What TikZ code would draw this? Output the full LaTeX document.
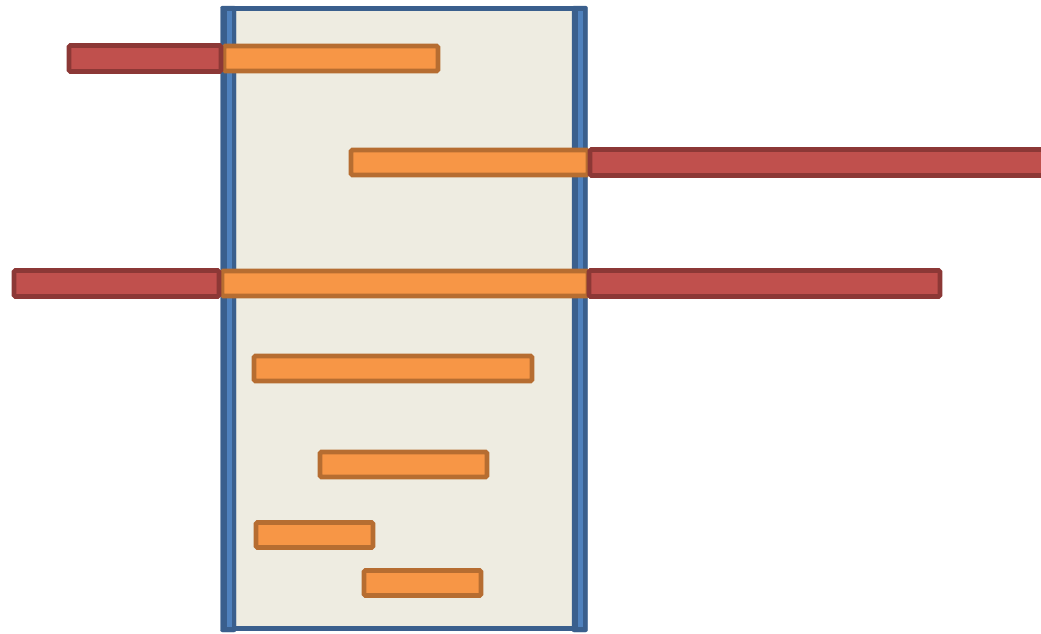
\documentclass[tikz,border=0pt]{standalone}
\usepackage{tikz}

\definecolor{boxfill}{HTML}{EEECE1}
\definecolor{boxline}{HTML}{3A5F8D}
\definecolor{boxlight}{HTML}{4F81BD}
\definecolor{barorange}{HTML}{F79646}
\definecolor{barorangeline}{HTML}{B66D31}
\definecolor{barred}{HTML}{C0504D}
\definecolor{barredline}{HTML}{8C3836}

\begin{document}
\begin{tikzpicture}[x=1pt,y=-1pt,
	orangebar/.style={rectangle,draw=barorangeline,fill=barorange,line width=4.8pt,rounded corners=1.5pt,inner sep=0pt,minimum height=25pt},
	redbar/.style={rectangle,draw=barredline,fill=barred,line width=4.8pt,rounded corners=1.5pt,inner sep=0pt,minimum height=26pt},
	sidebar/.style={draw=boxline,fill=boxline,rounded corners=2pt},
	sidelight/.style={draw=none,fill=boxlight}]
				\useasboundingbox (0,0) rectangle (1041,633);
				\clip (0,0) rectangle (1041,633);
				% the box
				\fill[boxfill] (228,9) rectangle (580,628);
				\draw[boxline, line width=5pt] (228,8.5) -- (580,8.5);
				\draw[boxline, line width=5pt] (228,628.5) -- (580,628.5);
				\path[sidebar] (220.5,6) rectangle (236,632);
				\path[sidelight] (226.5,11) rectangle (231.5,627);
				\path[sidebar] (572,6) rectangle (587.5,632);
				\path[sidelight] (577.5,11) rectangle (582.5,627);
				% the bars
				\node[orangebar, minimum width=214] (O1) at (331,58.5) {};
				\node[redbar, minimum width=152] (R1) at (145,58.5) {};
				\node[orangebar, minimum width=237] (O2) at (469.5,162.5) {};
				\node[redbar, minimum width=470] (R2) at (825,162.5) {};
				\node[orangebar, minimum width=366] (O3) at (405,283.5) {};
				\node[redbar, minimum width=205] (R3) at (116.5,283.5) {};
				\node[redbar, minimum width=351] (R4) at (764.5,283.5) {};
				\node[orangebar, minimum width=278] (O4) at (393,368.5) {};
				\node[orangebar, minimum width=167] (O5) at (403.5,464.5) {};
				\node[orangebar, minimum width=117] (O6) at (314.5,535) {};
				\node[orangebar, minimum width=117] (O7) at (422.5,583) {};
			\end{tikzpicture}
\end{document}
